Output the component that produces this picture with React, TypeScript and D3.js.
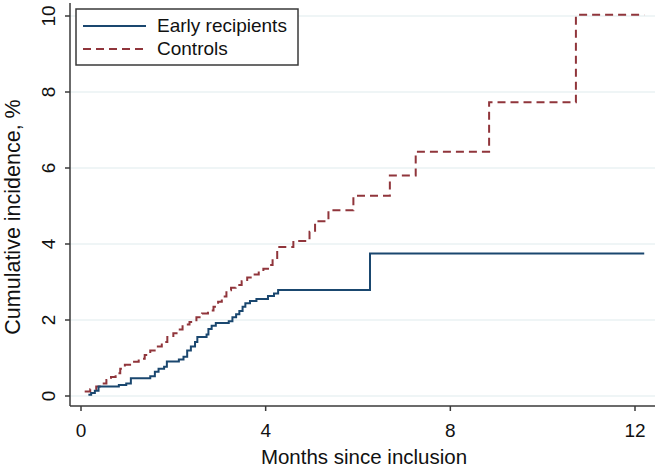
import React from "react";
import * as d3 from "d3";

// Step times (months) and cumulative incidence (%) after each step
const earlyTimes = [0.16, 0.22, 0.3, 0.38, 0.82, 0.98, 1.08, 1.5, 1.6, 1.68, 1.8, 1.86, 2.12, 2.22, 2.3, 2.38, 2.47, 2.52, 2.72, 2.76, 2.83, 2.92, 3.2, 3.28, 3.36, 3.43, 3.5, 3.56, 3.66, 3.8, 4.05, 4.18, 4.27, 6.26, 12.2];
const earlyValues = [0.03, 0.08, 0.14, 0.25, 0.29, 0.33, 0.47, 0.52, 0.64, 0.72, 0.77, 0.91, 0.96, 1.03, 1.2, 1.3, 1.42, 1.55, 1.62, 1.76, 1.85, 1.92, 1.97, 2.07, 2.15, 2.24, 2.35, 2.44, 2.5, 2.55, 2.63, 2.7, 2.79, 3.75, 3.75];

const controlTimes = [0.08, 0.2, 0.33, 0.45, 0.55, 0.65, 0.75, 0.85, 0.95, 1.1, 1.25, 1.38, 1.5, 1.62, 1.75, 1.87, 2.0, 2.1, 2.2, 2.35, 2.5, 2.62, 2.75, 2.87, 2.97, 3.05, 3.15, 3.25, 3.35, 3.48, 3.6, 3.72, 3.85, 3.95, 4.05, 4.15, 4.25, 4.6, 4.95, 5.07, 5.36, 5.9, 6.69, 7.25, 8.84, 10.72, 12.2];
const controlValues = [0.12, 0.18, 0.25, 0.33, 0.42, 0.5, 0.6, 0.72, 0.82, 0.9, 0.98, 1.08, 1.2, 1.3, 1.42, 1.55, 1.65, 1.75, 1.88, 1.95, 2.07, 2.17, 2.25, 2.35, 2.48, 2.62, 2.78, 2.85, 2.92, 3.02, 3.12, 3.2, 3.28, 3.35, 3.45, 3.6, 3.92, 4.08, 4.32, 4.6, 4.89, 5.27, 5.8, 6.43, 7.73, 10.03, 10.03];

const xTicks = [0, 4, 8, 12];
const yTicks = [0, 2, 4, 6, 8, 10];
const seriesNames = ["Early recipients", "Controls"];

const W = 659;
const H = 468;
const NAVY = "#1a476f";
const MAROON = "#90353b";
const AXIS = "#3a3a3a";
const GRID = "#eaf2f3";
const FONT = "'Liberation Sans', Arial, Helvetica, sans-serif";

export default function App() {
  const x = d3.scaleLinear().domain([0, 12]).range([81, 635]);
  const y = d3.scaleLinear().domain([0, 10]).range([396, 16]);
  const plotLeft = 70;
  const plotRight = 655;
  const plotBottom = 406;
  const plotTop = 3;

  const line = d3
    .line<[number, number]>()
    .x((d) => x(d[0]))
    .y((d) => y(d[1]))
    .curve(d3.curveStepAfter);

  const early: [number, number][] = earlyTimes.map((t, i) => [t, earlyValues[i]]);
  const controls: [number, number][] = controlTimes.map((t, i) => [t, controlValues[i]]);

  return (
    <svg
      width={W}
      height={H}
      style={{ position: "absolute", left: 0, top: 0, background: "#fff" }}
      fontFamily={FONT}
    >
      <rect x={0} y={0} width={W} height={H} fill="#fff" />
      {yTicks.map((t) => (
        <line key={"g" + t} x1={plotLeft} x2={plotRight} y1={y(t)} y2={y(t)} stroke={GRID} strokeWidth={1.5} />
      ))}
      <path d={line(controls) || ""} fill="none" stroke={MAROON} strokeWidth={2} strokeDasharray="8,5" />
      <path d={line(early) || ""} fill="none" stroke={NAVY} strokeWidth={2} />

      {/* axes */}
      <line x1={plotLeft} x2={plotLeft} y1={plotTop} y2={plotBottom} stroke={AXIS} strokeWidth={1.5} />
      <line x1={plotLeft} x2={plotRight} y1={plotBottom} y2={plotBottom} stroke={AXIS} strokeWidth={1.5} />
      {yTicks.map((t) => (
        <g key={"y" + t}>
          <line x1={plotLeft - 5} x2={plotLeft} y1={y(t)} y2={y(t)} stroke={AXIS} strokeWidth={1.5} />
          <text
            transform={`translate(55,${y(t)}) rotate(-90)`}
            textAnchor="middle"
            fontSize={19}
            fill="#111"
          >
            {t}
          </text>
        </g>
      ))}
      {xTicks.map((t) => (
        <g key={"x" + t}>
          <line x1={x(t)} x2={x(t)} y1={plotBottom} y2={plotBottom + 5} stroke={AXIS} strokeWidth={1.5} />
          <text x={x(t)} y={437} textAnchor="middle" fontSize={19} fill="#111">
            {t}
          </text>
        </g>
      ))}
      <text x={364} y={464} textAnchor="middle" fontSize={20.5} fill="#111">
        Months since inclusion
      </text>
      <text transform="translate(20,217) rotate(-90)" textAnchor="middle" fontSize={21.5} fill="#111">
        Cumulative incidence, %
      </text>

      {/* legend */}
      <rect x={76} y={9} width={222} height={56} fill="#fff" stroke={AXIS} strokeWidth={1.5} />
      <line x1={83} x2={146} y1={26} y2={26} stroke={NAVY} strokeWidth={2} />
      <line x1={83} x2={146} y1={49} y2={49} stroke={MAROON} strokeWidth={2} strokeDasharray="8,5" />
      <text x={157} y={32} fontSize={19} fill="#111">
        {seriesNames[0]}
      </text>
      <text x={157} y={55} fontSize={19} fill="#111">
        {seriesNames[1]}
      </text>
    </svg>
  );
}
